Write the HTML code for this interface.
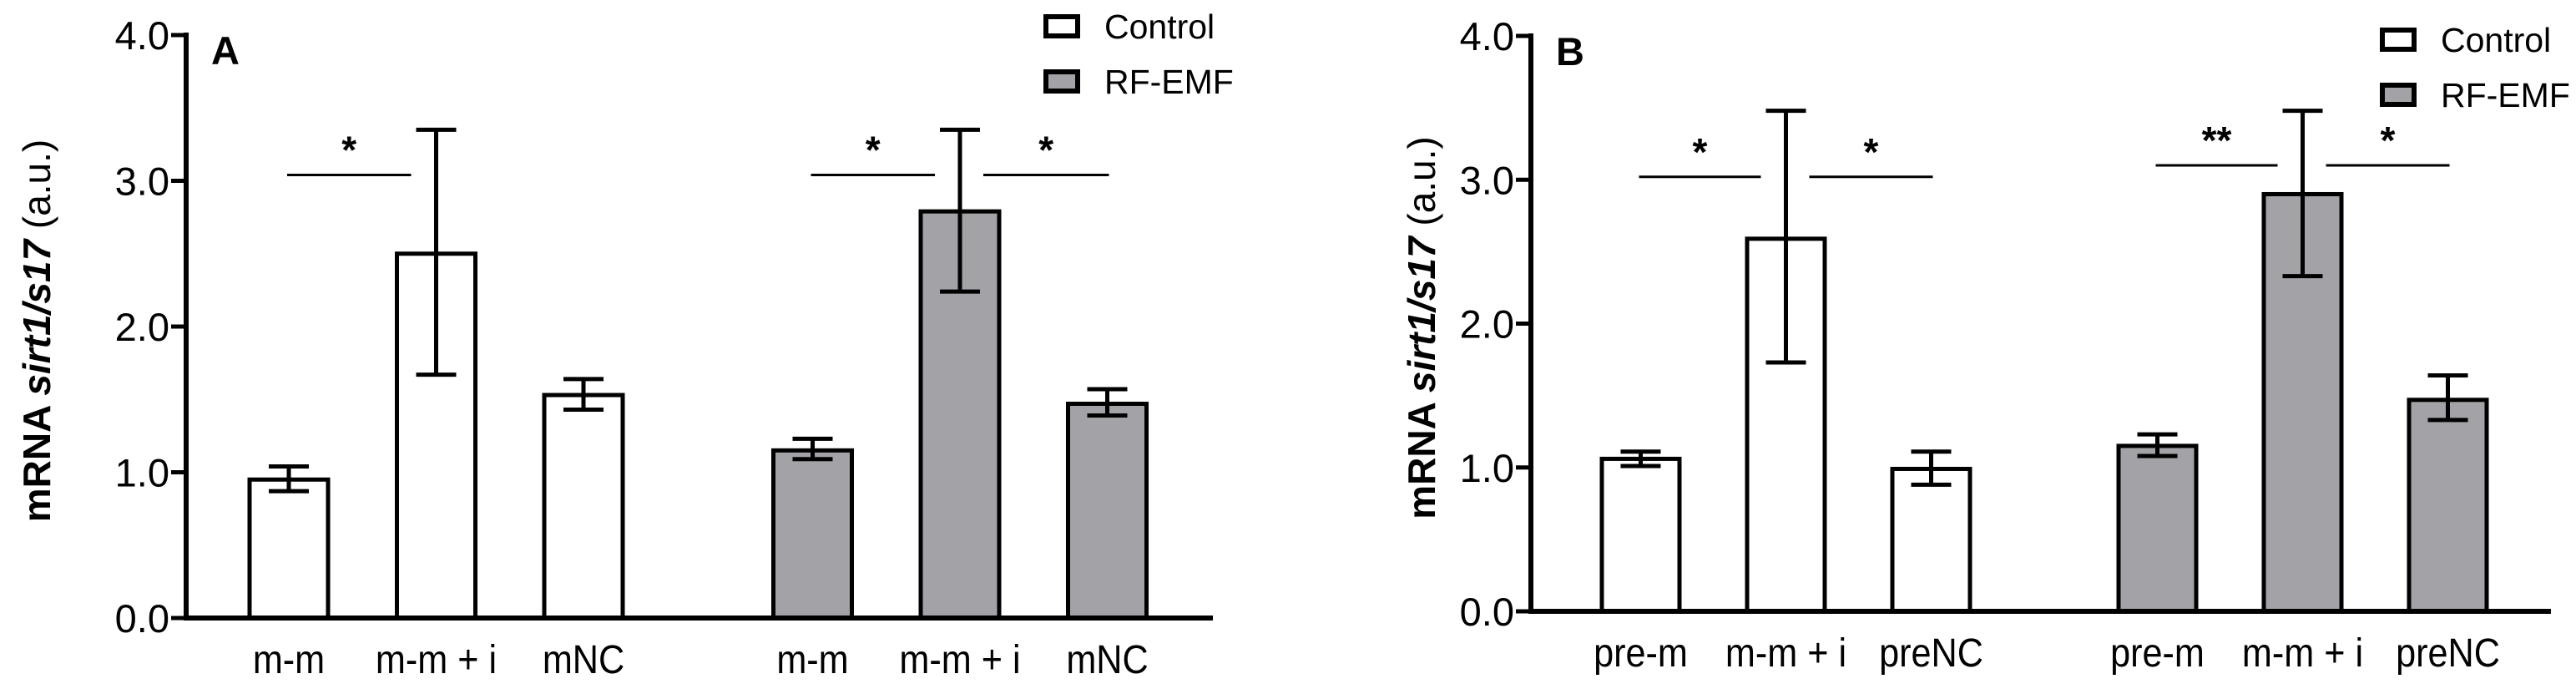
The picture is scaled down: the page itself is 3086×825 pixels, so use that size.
<!DOCTYPE html>
<html><head><meta charset="utf-8"><style>
html,body{margin:0;padding:0;background:#fff;}
svg{display:block;font-family:"Liberation Sans",Arial,sans-serif;}
</style></head><body>
<svg id="chart" width="3086" height="825" viewBox="0 0 3086 825" xmlns="http://www.w3.org/2000/svg"></svg>
<script>
const ticks = [0, 1, 2, 3, 4];
const tickLabels = ["0.0", "1.0", "2.0", "3.0", "4.0"];
const catsA = ["m-m", "m-m + i", "mNC", "m-m", "m-m + i", "mNC"];
const valsA = [0.95, 2.50, 1.53, 1.15, 2.79, 1.47];
const loA = [0.87, 1.67, 1.43, 1.09, 2.24, 1.39];
const hiA = [1.04, 3.35, 1.64, 1.23, 3.35, 1.57];
const catsB = ["pre-m", "m-m + i", "preNC", "pre-m", "m-m + i", "preNC"];
const valsB = [1.06, 2.59, 0.99, 1.15, 2.90, 1.47];
const loB = [1.01, 1.73, 0.88, 1.08, 2.33, 1.33];
const hiB = [1.11, 3.48, 1.11, 1.23, 3.48, 1.64];
const groups = ["control", "control", "control", "rf-emf", "rf-emf", "rf-emf"];
// significance: [fromBar, toBar, value, label]
const sigA = [[0, 1, 3.04, "*"], [3, 4, 3.04, "*"], [4, 5, 3.04, "*"]];
const sigB = [[0, 1, 3.02, "*"], [1, 2, 3.02, "*"], [3, 4, 3.10, "**"], [4, 5, 3.10, "*"]];

const NS = "http://www.w3.org/2000/svg";
const svg = document.getElementById('chart');
function mk(tag, attrs, parent, text) {
  const e = document.createElementNS(NS, tag);
  for (const k in attrs) e.setAttribute(k, attrs[k]);
  if (text !== undefined) e.textContent = text;
  (parent || svg).appendChild(e);
  return e;
}

function panel(cfg) {
  const g = mk('g', {});
  
  
  const y = v => cfg.base - v * (cfg.base - cfg.top) / 4;
  const barX = i => cfg.x0 + i * cfg.step + (i >= 3 ? cfg.gap : 0);
  const bw = cfg.bw;
  cfg.vals.forEach((v, i) => {
    const b = mk('rect', {x: barX(i), y: y(v), width: bw, height: cfg.base - y(v),
      fill: groups[i] === 'control' ? '#ffffff' : '#a3a3a7', stroke: '#000', 'stroke-width': 5}, g);
    
    
    const cx = barX(i) + bw / 2;
    const eb = mk('path', {d: `M${cx},${y(cfg.lo[i])}V${y(cfg.hi[i])}M${cx - 24},${y(cfg.lo[i])}H${cx + 24}M${cx - 24},${y(cfg.hi[i])}H${cx + 24}`,
      stroke: '#000', 'stroke-width': 5, fill: 'none'}, g);
    
    
    const t = mk('text', {transform: `translate(${cx},${cfg.labY}) scale(0.9,1)`, 'text-anchor': 'middle', 'font-size': 48}, g, cfg.cats[i]);
    
    
  });
  const ax = mk('path', {d: `M${cfg.axX},${cfg.top - 3}V${cfg.base}H${cfg.axEnd}`, stroke: '#000', 'stroke-width': 6, fill: 'none'}, g);
  
  
  ticks.forEach((v, i) => {
    const tk = mk('line', {x1: cfg.axX - 18, x2: cfg.axX, y1: y(v), y2: y(v), stroke: '#000', 'stroke-width': 5}, g);
    
    
    const tl = mk('text', {x: cfg.axX - 20, y: y(v) + 17, 'text-anchor': 'end', 'font-size': 47}, g, tickLabels[i]);
    
    
  });
  cfg.sig.forEach(s => {
    const c1 = barX(s[0]) + bw / 2, c2 = barX(s[1]) + bw / 2;
    const first = s[0] % 3 === 0;
    const x1 = first ? c1 - 2 : c1 + 28;
    const x2 = first ? c2 - 30 : c2 + 2;
    const yy = y(s[2]);
    const l = mk('line', {x1: x1, x2: x2, y1: yy, y2: yy, stroke: '#000', 'stroke-width': 3}, g);
    
    
    const st = mk('text', {x: (x1 + x2) / 2, y: yy - 14, 'text-anchor': 'middle', 'font-size': 46, 'font-weight': 'bold'}, g, s[3]);
    
    
  });
  const pl = mk('text', {x: cfg.axX + 30, y: cfg.top + 35, 'font-size': 47, 'font-weight': 'bold'}, g, cfg.letter);
  
  
  const yt = mk('text', {transform: `translate(${cfg.ytX},${(cfg.top + cfg.base) / 2 + 5}) rotate(-90)`, 'text-anchor': 'middle', 'font-size': 46}, g);
  
  
  mk('tspan', {'font-weight': 'bold'}, yt, 'mRNA ');
  mk('tspan', {'font-weight': 'bold', 'font-style': 'italic'}, yt, 'sirt1/s17');
  mk('tspan', {}, yt, ' (a.u.)');
  [['Control', '#ffffff', 0], ['RF-EMF', '#a3a3a7', 1]].forEach(([name, fill, k]) => {
    const ly = cfg.legY + k * 66;
    const lg = mk('g', {}, g);
    
    
    mk('rect', {x: cfg.legX + 3, y: ly + 3, width: 38, height: 23, fill: fill, stroke: '#000', 'stroke-width': 6}, lg);
    mk('text', {x: cfg.legX + 73, y: ly + 29, 'font-size': 41}, lg, name);
  });
}

panel({id: 'panel-a', letter: 'A', vals: valsA, lo: loA, hi: hiA, cats: catsA, sig: sigA,
  top: 42, base: 740, axX: 223, axEnd: 1453, x0: 299, step: 176.5, gap: 98, bw: 94, labY: 806,
  ytX: 60, legX: 1250, legY: 17});
panel({id: 'panel-b', letter: 'B', vals: valsB, lo: loB, hi: hiB, cats: catsB, sig: sigB,
  top: 43, base: 732, axX: 1834, axEnd: 3056, x0: 1919, step: 174, gap: 97, bw: 93, labY: 798,
  ytX: 1719, legX: 2851, legY: 33});
</script>
</body></html>
